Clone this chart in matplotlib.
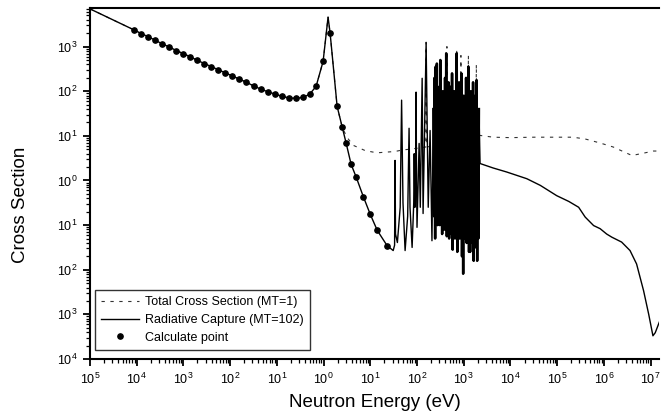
import numpy as np
import matplotlib.pyplot as plt
from matplotlib.ticker import FixedLocator, FixedFormatter, LogLocator, NullFormatter

plt.rcParams['font.family'] = ['Liberation Sans', 'DejaVu Sans']
plt.rcParams['mathtext.default'] = 'regular'

# all values are log10(E / eV) and log10(sigma / b)

# calculated points (1/v region, first resonance and its high-energy wing)
dot_loge = [-4.05, -3.9, -3.75, -3.6, -3.45, -3.3, -3.15, -3.0, -2.85, -2.7,
            -2.55, -2.4, -2.25, -2.1, -1.95, -1.8, -1.65, -1.5, -1.35, -1.2,
            -1.05, -0.9, -0.75, -0.6, -0.45, -0.3, -0.16, -0.01,
            0.14, 0.29, 0.40, 0.48, 0.59, 0.70, 0.85, 1.00, 1.15, 1.36]
dot_logs = [3.37, 3.29, 3.22, 3.14, 3.06, 2.99, 2.91, 2.84, 2.77, 2.69,
            2.62, 2.55, 2.48, 2.41, 2.34, 2.27, 2.20, 2.12, 2.05, 1.99,
            1.94, 1.89, 1.85, 1.84, 1.86, 1.93, 2.11, 2.67,
            3.30, 1.66, 1.19, 0.85, 0.36, 0.07, -0.36, -0.76, -1.12, -1.46]

start_loge, start_logs = -5.0, 3.845
peak_loge, peak_logs = 0.096, 3.66

# first resolved resonances (capture)
res_loge = [1.49, 1.52, 1.53, 1.54, 1.58, 1.64, 1.67, 1.70, 1.745, 1.80,
            1.83, 1.85, 1.895, 1.93, 1.94, 1.955, 1.97, 1.98, 1.99, 2.00,
            2.045, 2.07, 2.11, 2.13, 2.195, 2.24, 2.28, 2.32]
res_logs = [-1.57, -1.45, 0.45, -1.2, -1.39, -0.6, 1.80, -0.5, -1.57, -0.8,
            1.17, -0.6, -1.5, -0.5, 0.6, -0.6, 0.2, 1.98, 0.0, -1.05,
            0.83, -0.6, 2.29, -0.74, 3.08, -0.6, 1.12, -1.35]

# dense resonance band, alternating peaks and valleys
dense_loge = [2.350, 2.363, 2.375, 2.388, 2.400, 2.413, 2.425, 2.438, 2.450, 2.463,
              2.475, 2.488, 2.500, 2.513, 2.525, 2.538, 2.550, 2.563, 2.575, 2.588,
              2.600, 2.613, 2.625, 2.638, 2.650, 2.663, 2.675, 2.688, 2.700, 2.713,
              2.725, 2.738, 2.750, 2.763, 2.775, 2.788, 2.800, 2.813, 2.825, 2.838,
              2.850, 2.863, 2.875, 2.888, 2.900, 2.913, 2.925, 2.938, 2.950, 2.963,
              2.975, 2.988, 3.000, 3.013, 3.025, 3.038, 3.050, 3.063, 3.075, 3.088,
              3.100, 3.113, 3.125, 3.138, 3.150, 3.163, 3.175, 3.188, 3.200, 3.213,
              3.225, 3.238, 3.250, 3.263, 3.275, 3.288, 3.300, 3.313, 3.325]
dense_logs = [1.6, -0.8, 2.3, -1.3, 2.55, -0.9, 2.62, -1.0, 1.4, -0.7,
              2.1, -1.0, 2.7, -0.9, 1.3, -1.2, 2.0, -0.8, 1.5, -1.1,
              2.3, -0.9, 2.85, -1.25, 1.6, -1.0, 2.2, -1.3, 1.4, -0.9,
              2.1, -1.2, 2.4, -1.55, 1.5, -1.0, 2.0, -1.3, 1.3, -1.1,
              2.85, -1.6, 1.6, -1.0, 2.2, -1.3, 1.4, -1.2, 2.4, -1.7,
              1.3, -2.09, 1.9, -1.3, 1.5, -1.0, 2.3, -1.4, 1.4, -1.2,
              2.55, -1.6, 1.5, -1.6, 2.0, -1.1, 1.4, -1.4, 2.2, -1.8,
              1.6, -1.2, 1.9, -1.5, 2.25, -1.8, 1.4, -1.3, 1.6]

# smooth capture above the resolved range
tail_loge = [3.35, 3.63, 3.92, 4.35, 4.64, 4.99, 5.25, 5.46, 5.60, 5.78,
             5.92, 6.06, 6.17, 6.38, 6.56, 6.70, 6.85, 6.96, 7.05, 7.10, 7.21]
tail_logs = [0.38, 0.28, 0.19, 0.04, -0.11, -0.34, -0.47, -0.60, -0.82, -1.01,
             -1.08, -1.20, -1.27, -1.38, -1.57, -1.87, -2.47, -3.0, -3.48, -3.41, -3.11]

# total cross section where it leaves the capture curve
tot_mid_loge = [0.50, 0.63, 0.89, 1.14, 1.53]
tot_mid_logs = [0.97, 0.79, 0.67, 0.62, 0.65]
tot_res_loge = [1.67, 1.83, 1.98, 2.19, 2.195, 2.20, 2.40, 2.63, 2.64, 2.65,
                2.84, 2.85, 2.86, 2.93, 2.94, 2.95, 3.09, 3.10, 3.11, 3.26,
                3.27, 3.28, 3.33]
tot_res_logs = [0.68, 0.70, 0.72, 0.75, 3.1, 0.75, 0.78, 0.82, 3.0, 0.82,
                0.86, 2.95, 0.86, 0.88, 2.8, 0.88, 0.92, 2.8, 0.92, 0.96,
                2.6, 0.96, 1.0]
tot_tail_loge = [3.35, 3.63, 4.0, 4.5, 4.85, 5.34, 5.6, 5.92, 6.2, 6.6, 6.84, 7.06, 7.21]
tot_tail_logs = [1.01, 0.97, 0.96, 0.97, 0.97, 0.97, 0.93, 0.84, 0.75, 0.56, 0.61, 0.66, 0.66]

x_tick_exp = [-5, -4, -3, -2, -1, 0, 1, 2, 3, 4, 5, 6, 7]
x_tick_txt = ['5', '4', '3', '2', '1', '0', '1', '2', '3', '4', '5', '6', '7']
y_tick_exp = [-4, -3, -2, -1, 0, 1, 2, 3]
y_tick_txt = ['4', '3', '2', '1', '0', '1', '2', '3']

# assemble curves
cap_loge = [start_loge] + dot_loge[:28] + [peak_loge] + dot_loge[28:] + res_loge + dense_loge + tail_loge
cap_logs = [start_logs] + dot_logs[:28] + [peak_logs] + dot_logs[28:] + res_logs + dense_logs + tail_logs
tot_loge = [start_loge] + dot_loge[:28] + [peak_loge] + dot_loge[28:31] + tot_mid_loge + tot_res_loge + tot_tail_loge
tot_logs = [start_logs] + dot_logs[:28] + [peak_logs] + dot_logs[28:31] + tot_mid_logs + tot_res_logs + tot_tail_logs

cap_e = 10.0 ** np.array(cap_loge)
cap_s = 10.0 ** np.array(cap_logs)
tot_e = 10.0 ** np.array(tot_loge)
tot_s = 10.0 ** np.array(tot_logs)
dot_e = 10.0 ** np.array(dot_loge)
dot_s = 10.0 ** np.array(dot_logs)

fig = plt.figure(figsize=(6.61, 4.18), dpi=100)
ax = fig.add_axes([90 / 661, 1 - 359 / 418, 569 / 661, 351 / 418])

ax.plot(tot_e, tot_s, color='#333333', lw=0.8, ls=(0, (3, 5)),
        label='Total Cross Section (MT=1)')
ax.plot(cap_e, cap_s, color='black', lw=1.0, label='Radiative Capture (MT=102)')
# heavier stroke over the dense band so it prints solid black
ax.plot(10.0 ** np.array(dense_loge), 10.0 ** np.array(dense_logs), color='black', lw=1.8)
ax.plot(dot_e, dot_s, 'o', color='black', ms=3.8, ls='none', label='Calculate point')

ax.set_xscale('log')
ax.set_yscale('log')
ax.set_xlim(1e-5, 10 ** 7.18)
ax.set_ylim(1e-4, 10 ** 3.865)

ax.xaxis.set_major_locator(FixedLocator([10.0 ** e for e in x_tick_exp]))
ax.xaxis.set_major_formatter(FixedFormatter(['$10^{%s}$' % t for t in x_tick_txt]))
ax.yaxis.set_major_locator(FixedLocator([10.0 ** e for e in y_tick_exp]))
ax.yaxis.set_major_formatter(FixedFormatter(['$10^{%s}$' % t for t in y_tick_txt]))
ax.xaxis.set_minor_locator(LogLocator(base=10, subs=np.arange(2, 10), numticks=30))
ax.yaxis.set_minor_locator(LogLocator(base=10, subs=np.arange(2, 10), numticks=30))
ax.xaxis.set_minor_formatter(NullFormatter())
ax.yaxis.set_minor_formatter(NullFormatter())

ax.tick_params(which='major', direction='out', length=5, width=1.3, labelsize=9, pad=4)
ax.tick_params(which='minor', direction='out', length=3, width=0.9)
ax.tick_params(top=False, right=False)

for side in ['left', 'bottom', 'top']:
    ax.spines[side].set_linewidth(1.5)
ax.spines['right'].set_visible(False)

ax.set_xlabel('Neutron Energy (eV)', fontsize=13.5)
ax.set_ylabel('Cross Section', fontsize=13.5)
ax.xaxis.set_label_coords(0.5, -0.1)
ax.yaxis.set_label_coords(-0.108, 0.44)

leg = ax.legend(loc='lower left', bbox_to_anchor=(0.009, 0.026), borderaxespad=0,
                fontsize=9, frameon=True, fancybox=False, handlelength=3.0,
                handletextpad=0.5, labelspacing=0.45, borderpad=0.5)
leg.get_frame().set_edgecolor('black')
leg.get_frame().set_linewidth(1.0)

plt.savefig('out.png', dpi=100)
